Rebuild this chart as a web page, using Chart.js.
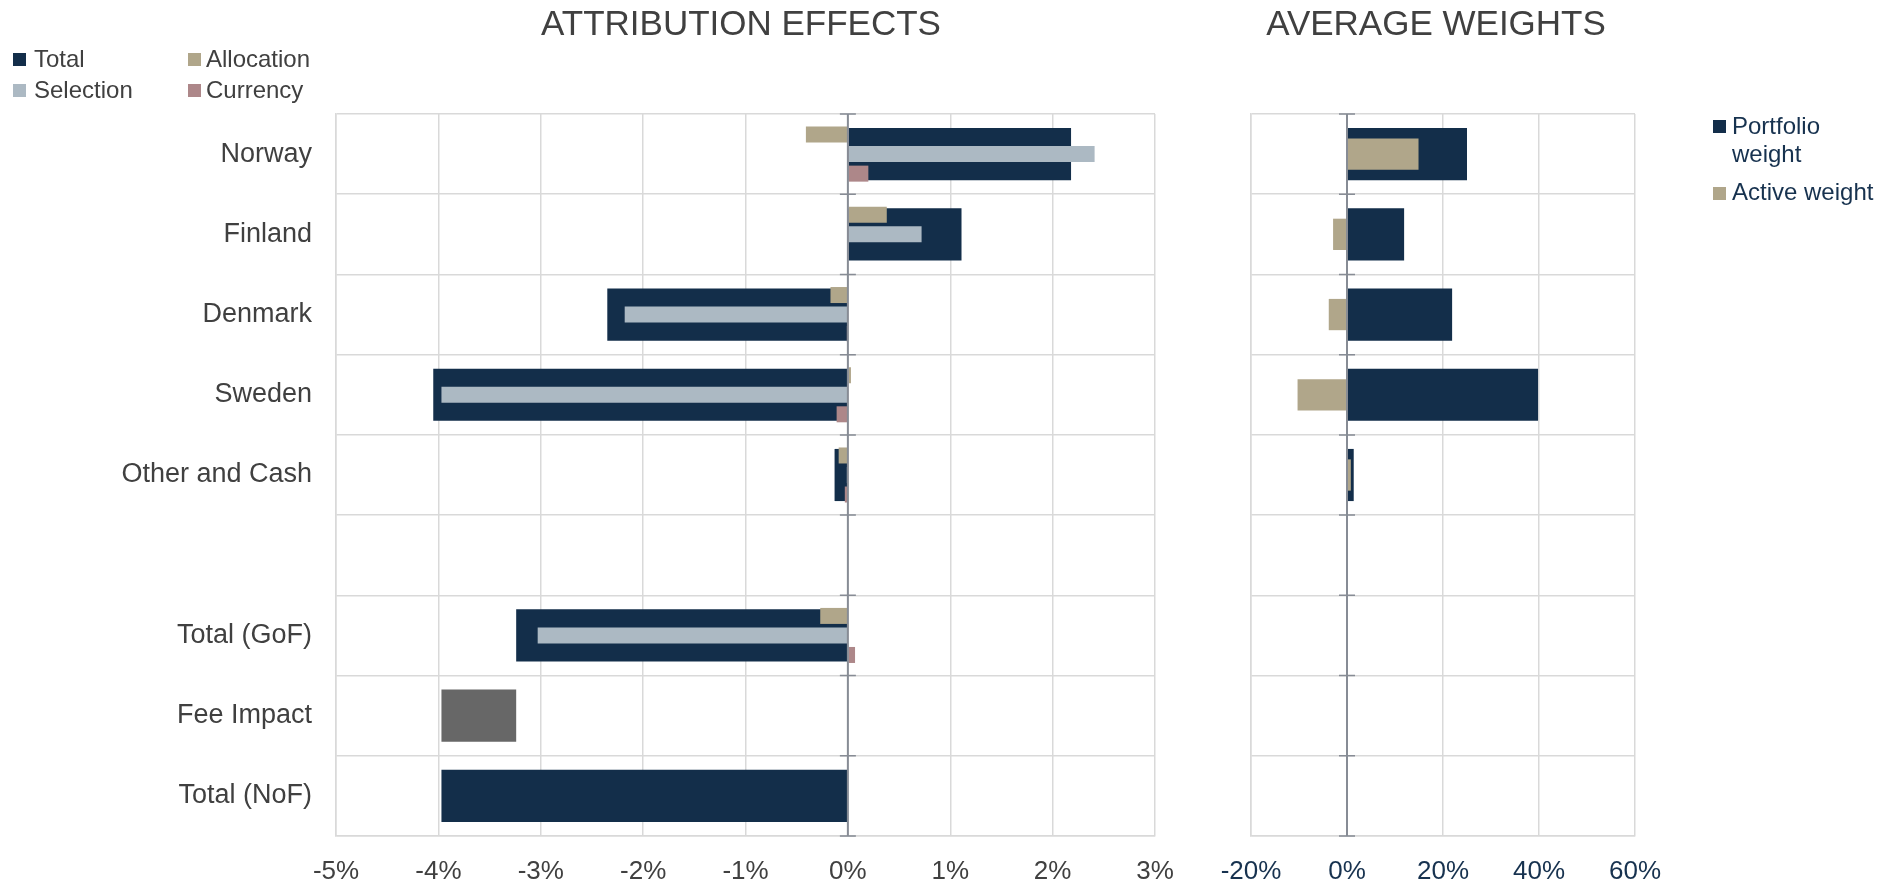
<!DOCTYPE html>
<html>
<head>
<meta charset="utf-8">
<script src="https://cdn.jsdelivr.net/npm/chart.js@4.4.1/dist/chart.umd.min.js"></script>
<style>
    body { margin: 0; background: #fff; font-family: "Liberation Sans", Arial, sans-serif; }
    #wrap { position: relative; width: 1887px; height: 886px; overflow: hidden; }
    canvas { position: absolute; top: 0; }
    .title { position: absolute; top: 5px; font-size: 35px; line-height: 35px; color: #404040; text-align: center; width: 600px; }
    .lg { position: absolute; font-size: 24px; line-height: 28px; color: #404040; white-space: nowrap; }
    .box { position: absolute; width: 13px; height: 13px; }
</style>
</head>
<body>
<div id="wrap">
    <canvas id="leftChart" width="1200" height="886" style="left:0"></canvas>
    <canvas id="rightChart" width="687" height="886" style="left:1200px"></canvas>

    <div class="title" style="left:441px">ATTRIBUTION EFFECTS</div>
    <div class="title" style="left:1136px">AVERAGE WEIGHTS</div>

    <!-- legend of attribution effects -->
    <div class="box" style="left:13px;top:53px;background:#132e4a"></div>
    <div class="lg" style="left:34px;top:45px">Total</div>
    <div class="box" style="left:188px;top:53px;background:#b0a68a"></div>
    <div class="lg" style="left:206px;top:45px">Allocation</div>
    <div class="box" style="left:13px;top:84px;background:#acb9c3"></div>
    <div class="lg" style="left:34px;top:76px">Selection</div>
    <div class="box" style="left:188px;top:84px;background:#ad8789"></div>
    <div class="lg" style="left:206px;top:76px">Currency</div>

    <!-- legend of average weights -->
    <div class="box" style="left:1713px;top:120px;background:#132e4a"></div>
    <div class="lg" style="left:1732px;top:112px;color:#17324f">Portfolio<br>weight</div>
    <div class="box" style="left:1713px;top:187px;background:#b0a68a"></div>
    <div class="lg" style="left:1732px;top:178px;color:#17324f">Active weight</div>
</div>

<script>
// categories
var categories = ['Norway', 'Finland', 'Denmark', 'Sweden', 'Other and Cash', '', 'Total (GoF)', 'Fee Impact', 'Total (NoF)'];

// attribution effects, in %
var totalEffect = [2.18, 1.11, -2.35, -4.05, -0.13, null, -3.24, null, -3.97];
var allocation  = [-0.41, 0.38, -0.17, 0.03, -0.09, null, -0.27, null, null];
var selection   = [2.41, 0.72, -2.18, -3.97, -0.01, null, -3.03, null, null];
var currency    = [0.20, 0.00, -0.01, -0.11, -0.03, null, 0.07, null, null];
// fee impact bar goes from total (GoF) down to total (NoF)
var feeImpact   = [null, null, null, null, null, null, null, [-3.97, -3.24], null];

// average weights, in %
var portfolioWeight = [25.0, 11.9, 21.9, 39.8, 1.4, null, null, null, null];
var activeWeight    = [14.9, -2.9, -3.8, -10.3, 0.8, null, null, null, null];

// tick labels
var effectTicks = [-5, -4, -3, -2, -1, 0, 1, 2, 3];
var weightTicks = [-20, 0, 20, 40, 60];

Chart.defaults.font.family = '"Liberation Sans", Arial, sans-serif';
Chart.defaults.animation = false;

var NAVY = '#132e4a';
var GRID = '#d9d9d9';

// zero line with little tick marks on every row boundary
const zeroLine = {
    id: 'zeroLine',
    afterDatasetsDraw(chart) {
        const ctx = chart.ctx;
        const area = chart.chartArea;
        const x0 = chart.scales.x.getPixelForValue(0);
        const yScale = chart.scales.y;
        ctx.save();
        ctx.strokeStyle = '#878c95';
        ctx.lineWidth = 2;
        ctx.beginPath();
        ctx.moveTo(x0, area.top);
        ctx.lineTo(x0, area.bottom);
        ctx.stroke();
        ctx.lineWidth = 1.5;
        ctx.beginPath();
        for (let i = 0; i <= categories.length; i++) {
            const y = yScale.getPixelForValue(i - 0.5);
            ctx.moveTo(x0 - 8, y);
            ctx.lineTo(x0 + 8, y);
        }
        ctx.stroke();
        ctx.restore();
    }
};

function xAxis(ticks, color) {
    return {
        type: 'linear',
        stacked: false,
        min: ticks[0],
        max: ticks[ticks.length - 1],
        afterBuildTicks: function (s) { s.ticks = ticks.map(function (v) { return { value: v }; }); },
        grid: { color: GRID, lineWidth: 1.5, drawTicks: false },
        border: { color: GRID, width: 1.5 },
        ticks: {
            padding: 20,
            color: color,
            font: { size: 26 },
            callback: function (v) { return v + '%'; }
        },
        afterFit: function (s) { s.height = 50; }
    };
}

// total + fee impact share one wide bar per row
var totalData = totalEffect.map(function (v, i) { return feeImpact[i] !== null ? feeImpact[i] : v; });
var totalColors = totalEffect.map(function (v, i) { return feeImpact[i] !== null ? '#676767' : NAVY; });

var ctx = document.getElementById('leftChart').getContext('2d');
var leftChart = new Chart(ctx, {
    type: 'bar',
    data: {
        labels: categories,
        datasets: [
            {
                label: 'Total',
                data: totalData,
                backgroundColor: totalColors,
                stack: 'b',
                grouped: false,
                categoryPercentage: 1,
                barPercentage: 0.65,
                order: 2
            },
            {
                label: 'Allocation',
                data: allocation,
                backgroundColor: '#b0a68a',
                stack: 'a',
                categoryPercentage: 0.73,
                barPercentage: 0.82,
                order: 1
            },
            {
                label: 'Selection',
                data: selection,
                backgroundColor: '#acb9c3',
                stack: 'b',
                categoryPercentage: 0.73,
                barPercentage: 0.82,
                order: 1
            },
            {
                label: 'Currency',
                data: currency,
                backgroundColor: '#ad8789',
                stack: 'c',
                categoryPercentage: 0.73,
                barPercentage: 0.82,
                order: 1
            }
        ]
    },
    options: {
        indexAxis: 'y',
        responsive: false,
        layout: { padding: { top: 114, right: 45, bottom: 0, left: 0 } },
        plugins: { legend: { display: false }, tooltip: { enabled: false } },
        scales: {
            x: xAxis(effectTicks, '#404040'),
            y: {
                type: 'category',
                offset: true,
                grid: { color: GRID, lineWidth: 1.5, drawTicks: false, offset: true },
                border: { color: GRID, width: 1.5 },
                ticks: { padding: 24, color: '#404040', font: { size: 27 } },
                afterFit: function (s) { s.width = 336; }
            }
        }
    },
    plugins: [zeroLine]
});

var ctx2 = document.getElementById('rightChart').getContext('2d');
var rightChart = new Chart(ctx2, {
    type: 'bar',
    data: {
        labels: categories,
        datasets: [
            {
                label: 'Portfolio weight',
                data: portfolioWeight,
                backgroundColor: NAVY,
                stack: 'w',
                grouped: false,
                categoryPercentage: 1,
                barPercentage: 0.65,
                order: 2
            },
            {
                label: 'Active weight',
                data: activeWeight,
                backgroundColor: '#b0a68a',
                stack: 'w',
                categoryPercentage: 1,
                barPercentage: 0.39,
                order: 1
            }
        ]
    },
    options: {
        indexAxis: 'y',
        responsive: false,
        layout: { padding: { top: 114, right: 252, bottom: 0, left: 51 } },
        plugins: { legend: { display: false }, tooltip: { enabled: false } },
        scales: {
            x: xAxis(weightTicks, '#17324f'),
            y: {
                type: 'category',
                offset: true,
                grid: { color: GRID, lineWidth: 1.5, drawTicks: false, offset: true },
                border: { color: GRID, width: 1.5 },
                ticks: { display: false },
                afterFit: function (s) { s.width = 0; }
            }
        }
    },
    plugins: [zeroLine]
});
</script>
</body>
</html>
